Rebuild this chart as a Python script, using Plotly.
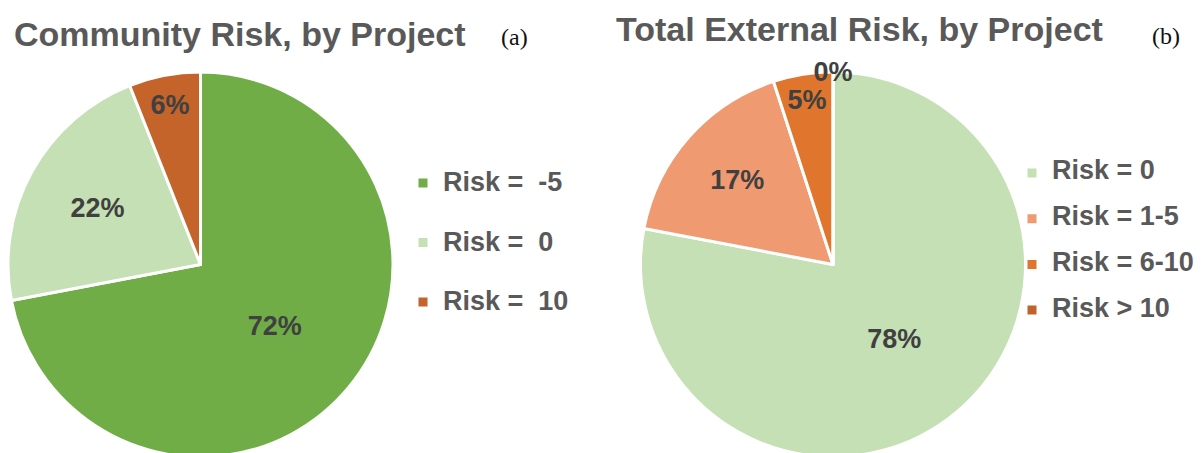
import plotly.graph_objects as go

W, H = 1203, 453
OFF = 8  # default <body> margin of the written page

# ---- data ----
cats_a = ["Risk =  -5", "Risk =  0", "Risk =  10"]
vals_a = [72, 22, 6]
colors_a = ["#70AD47", "#C5E0B4", "#C4632A"]

cats_b = ["Risk = 0", "Risk = 1-5", "Risk = 6-10", "Risk > 10"]
vals_b = [78, 17, 5, 0]
colors_b = ["#C5E0B4", "#EF9A70", "#E0762D", "#C0622A"]

title_a = "Community Risk, by Project"
title_b = "Total External Risk, by Project"

FONT = "Arial, 'Liberation Sans', sans-serif"
SERIF = "'Liberation Serif', 'Times New Roman', serif"
TXT_GRAY = "#595959"
LBL_GRAY = "#404040"
LEG_PX = 27


def legend_labels(cats, tail):
    return [f"<span style='font-size:{LEG_PX}px'>{c}</span><br>{tail}" for c in cats]


# window-pixel -> paper coordinates (page is offset by the body margin)
def px_x(p):
    return (p - OFF) / W


def px_y(p):
    return 1 - (p - OFF) / H


R = 192.5
TOP = 72
cx_a, cx_b = 200.5, 833


def dom(cx):
    x0 = max(px_x(cx - R), 0)
    return dict(x=[x0, px_x(cx + R)], y=[px_y(TOP + 2 * R), px_y(TOP)])


fig = go.Figure()
fig.add_trace(go.Pie(
    labels=legend_labels(cats_a, " "), values=vals_a, sort=False, direction="clockwise", rotation=0,
    marker=dict(colors=colors_a, line=dict(color="white", width=3)),
    texttemplate="%{percent:.0%}", textposition="inside",
    insidetextorientation="horizontal",
    textfont=dict(family=FONT, size=27, color=LBL_GRAY, weight="bold"),
    hoverinfo="percent",
    domain=dom(cx_a),
    legend="legend",
))
fig.add_trace(go.Pie(
    labels=legend_labels(cats_b, "&nbsp;"), values=vals_b, sort=False, direction="clockwise", rotation=0,
    marker=dict(colors=colors_b, line=dict(color="white", width=3)),
    texttemplate="%{percent:.0%}", textposition="inside",
    insidetextorientation="horizontal",
    textfont=dict(family=FONT, size=27, color=LBL_GRAY, weight="bold"),
    hoverinfo="percent",
    domain=dom(cx_b),
    legend="legend2",
))

# legend item height = 2*1.3*f + 3
fa = (59.5 - 3) / 2.6
fb = (45.7 - 3) / 2.6


def top_for(first_marker_y, f):
    L = 1.3 * f
    h = 2 * L + 3
    center = first_marker_y + L / 2
    return center - h / 2 - 5


fig.update_layout(
    width=W, height=H,
    margin=dict(l=0, r=0, t=0, b=0),
    paper_bgcolor="white", plot_bgcolor="white",
    uniformtext=dict(minsize=27, mode="show"),
    legend=dict(
        x=px_x(443 - 40), y=px_y(top_for(183, fa)), xanchor="left", yanchor="top",
        font=dict(family=FONT, size=fa, color=TXT_GRAY, weight="bold"),
        valign="top", bgcolor="rgba(0,0,0,0)", itemclick=False, itemdoubleclick=False,
    ),
    legend2=dict(
        x=px_x(1052 - 40), y=px_y(top_for(173, fb)), xanchor="left", yanchor="top",
        font=dict(family=FONT, size=fb, color=TXT_GRAY, weight="bold"),
        valign="top", bgcolor="rgba(0,0,0,0)", itemclick=False, itemdoubleclick=False,
    ),
    annotations=[
        dict(text=title_a, x=px_x(12), y=px_y(34), xref="paper", yref="paper",
             xanchor="left", yanchor="middle", showarrow=False,
             font=dict(family=FONT, size=34, color=TXT_GRAY, weight="bold")),
        dict(text="(a)", x=px_x(499), y=px_y(37), xref="paper", yref="paper",
             xanchor="left", yanchor="middle", showarrow=False,
             font=dict(family=SERIF, size=24, color="#111111")),
        dict(text=title_b, x=px_x(614), y=px_y(29), xref="paper", yref="paper",
             xanchor="left", yanchor="middle", showarrow=False,
             font=dict(family=FONT, size=34, color=TXT_GRAY, weight="bold")),
        dict(text="(b)", x=px_x(1150), y=px_y(36), xref="paper", yref="paper",
             xanchor="left", yanchor="middle", showarrow=False,
             font=dict(family=SERIF, size=24, color="#111111")),
    ],
)

fig.write_html("out.html")
